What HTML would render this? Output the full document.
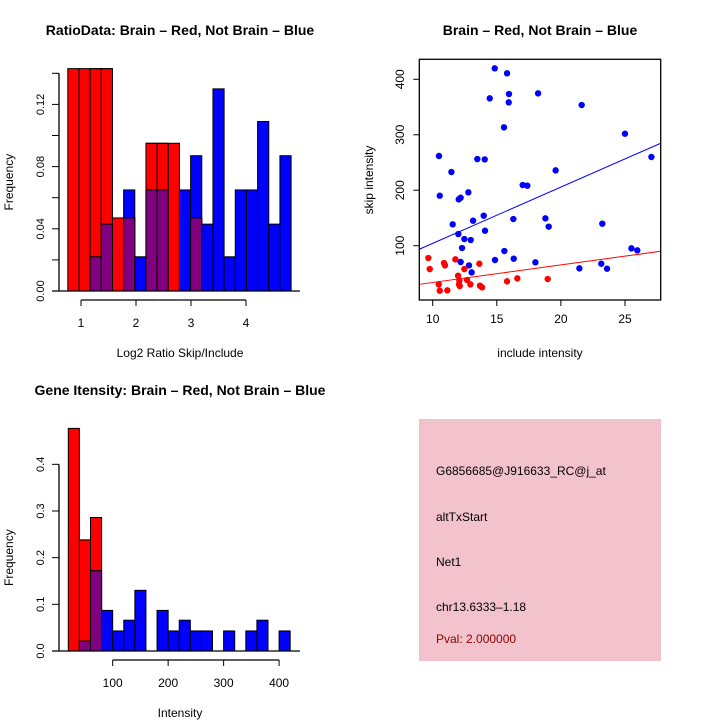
<!DOCTYPE html>
<html><head><meta charset="utf-8"><style>
body{margin:0;background:#fff;}
svg{display:block;font-family:"Liberation Sans",sans-serif;}
</style></head><body>
<svg id="c" width="720" height="720" viewBox="0 0 720 720"></svg>
<script>
// ---- data ----
const ratioBinStart = 0.76, ratioBinWidth = 0.203;
const ratioRed = [0.143,0.143,0.143,0.143,0.047,0.047,0,0.095,0.095,0.095,0,0.047,0,0,0,0,0,0,0,0];
const ratioBlue = [0,0,0.022,0.043,0,0.065,0.022,0.065,0.065,0,0.065,0.087,0.043,0.130,0.022,0.065,0.065,0.109,0.043,0.087];
const ratioXTicks = [1,2,3,4];
const ratioYTicks = [0,0.04,0.08,0.12];
const ratioYMinor = [0,0.02,0.04,0.06,0.08,0.10,0.12,0.14];

const intBinStart = 20, intBinWidth = 20;
const intRed = [0.477,0.238,0.286,0,0,0,0,0,0,0,0,0,0,0,0,0,0,0,0,0];
const intBlue = [0,0.021,0.172,0.087,0.043,0.066,0.130,0,0.087,0.043,0.066,0.043,0.043,0,0.043,0,0.043,0.066,0,0.043];
const intXTicks = [100,200,300,400];
const intYTicks = [0,0.1,0.2,0.3,0.4];

const blueX = [14.84,15.80,15.95,15.93,18.22,14.45,21.62,15.56,25.0,10.49,13.48,14.06,27.06,11.46,19.59,10.55,17.02,17.38,12.78,12.03,12.18,13.98,13.15,16.29,18.79,19.05,23.23,11.56,14.08,12.0,12.47,12.97,12.29,15.59,25.5,25.96,14.86,16.32,12.18,12.83,18.01,13.04,21.44,23.15,23.6];
const blueY = [419.7,410.7,373.4,358.4,374.6,365.6,353.6,313.3,301.9,261.7,256.2,255.6,259.9,232.8,235.8,190.1,209.4,208.2,196.2,183.5,186.5,154.1,145.1,148.1,149.3,134.3,139.7,138.5,127.0,121.0,112.0,110.2,95.8,90.4,95.2,91.6,74.2,76.6,70.6,64.5,70.0,51.9,59.1,67.5,58.5];
const redX = [9.66,9.77,10.88,10.96,11.77,13.64,12.47,10.47,10.55,11.14,11.98,12.08,12.05,12.11,12.68,12.94,13.69,13.85,15.80,16.60,18.97];
const redY = [77.8,57.9,68.7,64.5,75.4,67.5,57.9,30.3,18.9,19.5,45.9,36.9,30.3,27.3,38.1,30.3,27.9,24.9,35.7,41.1,39.9];
const blueFit = [2.7,10.15];
const redFit = [2.1,3.16];
const scXTicks = [10,15,20,25];
const scYTicks = [100,200,300,400];

// ---- helpers ----
const svg = document.getElementById('c');
const NS = 'http://www.w3.org/2000/svg';
function mk(tag, attrs, parent){
  const e = document.createElementNS(NS, tag);
  for (const k in attrs) e.setAttribute(k, attrs[k]);
  (parent||svg).appendChild(e);
  return e;
}
function txt(x,y,s,opts){
  const e = mk('text',{x:x,y:y,'text-anchor':opts.anchor||'middle','font-size':opts.size||12,fill:opts.fill||'#000','font-weight':opts.bold?'bold':'normal'});
  if (opts.rot) e.setAttribute('transform','rotate(-90 '+x+' '+y+')');
  e.textContent = s;
  return e;
}

// ---- histogram ----
function hist(cfg){
  const g = mk('g',{});
  
  
  const X = v => cfg.x0 + (v - cfg.xv0) * cfg.xs;
  const Y = v => cfg.y0 - v * cfg.ys;
  for (let i=0;i<cfg.red.length;i++){
    const a = X(cfg.binStart + i*cfg.binW), b = X(cfg.binStart + (i+1)*cfg.binW);
    const r = cfg.red[i], bl = cfg.blue[i], m = Math.min(r,bl);
    if (r>0){ const e = mk('rect',{x:a,y:Y(r),width:b-a,height:Y(0)-Y(r),fill:'#ff0000',stroke:'#000','stroke-width':1},g);
        }
    if (bl>0){ const e = mk('rect',{x:a,y:Y(bl),width:b-a,height:Y(0)-Y(bl),fill:'#0000ff',stroke:'#000','stroke-width':1},g);
        }
    if (m>0){ const e = mk('rect',{x:a,y:Y(m),width:b-a,height:Y(0)-Y(m),fill:'#800080',stroke:'#000','stroke-width':1},g);
       
      if (r>bl) mk('line',{x1:a,x2:b,y1:Y(r),y2:Y(r),stroke:'#000'},g);
    }
  }
  // baseline
  mk('line',{x1:52,x2:300,y1:Y(0),y2:Y(0),stroke:'#000','stroke-width':1.3},g);
  // y axis
  const yt = cfg.yMinor || cfg.yTicks;
  mk('line',{x1:59,x2:59,y1:Y(yt[yt.length-1]),y2:Y(0),stroke:'#000','stroke-width':1.3},g);
  yt.forEach(v=>mk('line',{x1:52,x2:59,y1:Y(v),y2:Y(v),stroke:'#000'},g));
  cfg.yTicks.forEach(v=>{ const t = txt(44,Y(v),v.toFixed(cfg.yDec),{size:11,rot:true});   });
  // x axis
  const ax = cfg.axisY;
  mk('line',{x1:X(cfg.xTicks[0]),x2:X(cfg.xTicks[cfg.xTicks.length-1]),y1:ax,y2:ax,stroke:'#000','stroke-width':1.3},g);
  cfg.xTicks.forEach(v=>{ mk('line',{x1:X(v),x2:X(v),y1:ax,y2:ax+6,stroke:'#000'},g);
    const t = txt(X(v),ax+27,String(v),{size:12});   });
  const xl = txt(180,ax+57,cfg.xlab,{size:12});  
  const yl = txt(13,(Y(0)+Y(yt[yt.length-1]))/2,'Frequency',{size:12,rot:true});  
  const tt = txt(180,cfg.titleY,cfg.title,{size:14,bold:true});  
}

hist({name:'ratio-histogram',x0:81,xv0:1,xs:55,y0:291,ys:1555,binStart:ratioBinStart,binW:ratioBinWidth,
  red:ratioRed,blue:ratioBlue,xTicks:ratioXTicks,yTicks:ratioYTicks,yMinor:ratioYMinor,yDec:2,axisY:300,
  xlab:'Log2 Ratio Skip/Include',title:'RatioData: Brain \u2013 Red, Not Brain \u2013 Blue',titleY:35});
hist({name:'intensity-histogram',x0:68.3,xv0:20,xs:0.5547,y0:651,ys:466.7,binStart:intBinStart,binW:intBinWidth,
  red:intRed,blue:intBlue,xTicks:intXTicks,yTicks:intYTicks,yDec:1,axisY:660,
  xlab:'Intensity',title:'Gene Itensity: Brain \u2013 Red, Not Brain \u2013 Blue',titleY:395});

// ---- scatter ----
(function(){
  const g = mk('g',{});
  
  
  const X = v => 432.7 + (v-10)*12.82;
  const Y = v => 245.7 - (v-100)*0.5547;
  const L=419.3,R=660.7,T=59.3,B=300;
  mk('defs',{},g).innerHTML = '<clipPath id="sc"><rect x="'+L+'" y="'+T+'" width="'+(R-L)+'" height="'+(B-T)+'"/></clipPath>';
  const xmin=(L-432.7)/12.82+10, xmax=(R-432.7)/12.82+10;
  const bl = mk('line',{x1:X(xmin),x2:X(xmax),y1:Y(blueFit[0]+blueFit[1]*xmin),y2:Y(blueFit[0]+blueFit[1]*xmax),stroke:'#0000ff','clip-path':'url(#sc)'},g);
   
  const rl = mk('line',{x1:X(xmin),x2:X(xmax),y1:Y(redFit[0]+redFit[1]*xmin),y2:Y(redFit[0]+redFit[1]*xmax),stroke:'#ff0000','clip-path':'url(#sc)'},g);
   
  blueX.forEach((v,i)=>{ const c = mk('circle',{cx:X(v),cy:Y(blueY[i]),r:3.2,fill:'#0000ff'},g);
      });
  redX.forEach((v,i)=>{ const c = mk('circle',{cx:X(v),cy:Y(redY[i]),r:3.2,fill:'#ff0000'},g);
      });
  mk('rect',{x:L,y:T,width:R-L,height:B-T,fill:'none',stroke:'#000','stroke-width':1.3},g);
  scXTicks.forEach(v=>{ mk('line',{x1:X(v),x2:X(v),y1:B,y2:B+6,stroke:'#000'},g);
    const t = txt(X(v),323,String(v),{size:12});   });
  scYTicks.forEach(v=>{ mk('line',{x1:L-6,x2:L,y1:Y(v),y2:Y(v),stroke:'#000'},g);
    const t = txt(404,Y(v),String(v),{size:12,rot:true});   });
  const xl = txt(540,357,'include intensity',{size:12});  
  const yl = txt(373,180,'skip intensity',{size:12,rot:true});  
  const tt = txt(540,35,'Brain \u2013 Red, Not Brain \u2013 Blue',{size:14,bold:true});  
})();

// ---- info panel ----
(function(){
  const g = mk('g',{});
  
  
  mk('rect',{x:419,y:419,width:242,height:242,fill:'#f3c3cd'},g);
  const lines = [['G6856685@J916633_RC@j_at',475,'#000'],['altTxStart',521,'#000'],['Net1',566,'#000'],['chr13.6333\u20131.18',611,'#000'],['Pval: 2.000000',643,'#8b0000']];
  const names = ['probe-id','event-type','gene-name','location','pval'];
  lines.forEach((l,i)=>{ const t = txt(436,l[1],l[0],{size:12,anchor:'start',fill:l[2]});
      });
})();
</script>
</body></html>
